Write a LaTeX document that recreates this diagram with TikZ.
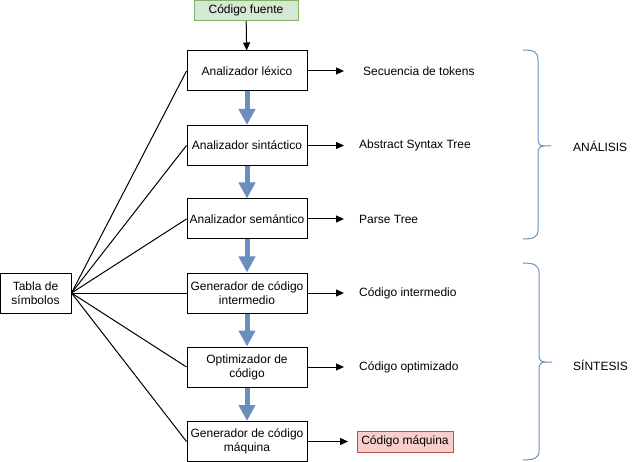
\documentclass[tikz,border=0pt]{standalone}
\usepackage{fontspec}
\setmainfont{Liberation Sans}
\usetikzlibrary{arrows.meta}
\definecolor{gfill}{HTML}{D5E8D4}
\definecolor{gline}{HTML}{82B366}
\definecolor{rfill}{HTML}{F8CECC}
\definecolor{rline}{HTML}{B85450}
\definecolor{bblue}{HTML}{6C8EBF}
\tikzset{
  stagebox/.style={draw=black, line width=1pt, minimum width=120pt, minimum height=40pt, inner sep=0pt, align=center, font=\fontsize{12}{14}\selectfont},
  tablebox/.style={draw=black, line width=1pt, minimum width=71pt, minimum height=40pt, inner sep=0pt, align=center, font=\fontsize{12}{14}\selectfont},
  lbl/.style={anchor=west, inner sep=0pt, font=\fontsize{12}{14}\selectfont},
  bigarrow/.style={draw=bblue, line width=5pt, -{Triangle[width=16pt,length=16pt]}},
  blkarrow/.style={draw=black, line width=1pt, -{Triangle[width=7pt,length=8pt]}},
  tline/.style={draw=black, line width=1pt},
  bracestyle/.style={draw=bblue, line width=1pt},
}
\begin{document}
\begin{tikzpicture}[x=1pt,y=-1pt]
\useasboundingbox (0,0) rectangle (634,462);

\node[draw=gline, fill=gfill, line width=1pt, minimum width=104pt, minimum height=20pt, inner sep=0pt, font=\fontsize{12}{14}\selectfont] (src) at (246,10.5) {Código fuente};

\node[stagebox] (lex) at (247,71) {Analizador léxico};
\node[stagebox] (sin) at (247,145.5) {Analizador sintáctico};
\node[stagebox] (sem) at (247,219) {Analizador semántico};
\node[stagebox] (gci) at (247,293) {Generador de código\\intermedio};
\node[stagebox] (opt) at (247,367) {Optimizador de\\código};
\node[stagebox] (gcm) at (247,441.5) {Generador de código\\máquina};

\node[tablebox] (tab) at (35.5,293) {Tabla de\\símbolos};

\draw[blkarrow] (src) -- (lex);
\draw[bigarrow] (lex) -- (sin);
\draw[bigarrow] (sin) -- (sem);
\draw[bigarrow] (sem) -- (gci);
\draw[bigarrow] (gci) -- (opt);
\draw[bigarrow] (opt) -- (gcm);

\foreach \n in {lex,sin,sem,gci,opt,gcm}{
  \draw[tline] (tab.east) -- (\n.west);
}

\coordinate (t1) at (344,71);
\coordinate (t2) at (344,145.5);
\coordinate (t3) at (344,219);
\coordinate (t4) at (344,293);
\coordinate (t5) at (344,367);
\coordinate (t6) at (348,441.5);
\draw[blkarrow] (lex.east) -- (t1);
\draw[blkarrow] (sin.east) -- (t2);
\draw[blkarrow] (sem.east) -- (t3);
\draw[blkarrow] (gci.east) -- (t4);
\draw[blkarrow] (opt.east) -- (t5);
\draw[blkarrow] (gcm.east) -- (t6);

\node[lbl] (l1) at (363,71) {Secuencia de tokens};
\node[lbl] (l2) at (359,145.5) {Abstract Syntax Tree};
\node[lbl] (l3) at (359,219) {Parse Tree};
\node[lbl] (l4) at (359,293) {Código intermedio};
\node[lbl] (l5) at (359,367) {Código optimizado};
\node[draw=rline, fill=rfill, line width=1pt, minimum width=96pt, minimum height=21pt, inner sep=0pt, font=\fontsize{12}{14}\selectfont] (l6) at (405,441.5) {Código máquina};

% braces
\draw[bracestyle] (523,50) .. controls (534,50) and (538,52) .. (538,60)
  -- (538,138) .. controls (538,143) and (539,146) .. (544,146) -- (551,146);
\draw[bracestyle] (544,146) .. controls (539,146) and (538,149) .. (538,154)
  -- (538,230) .. controls (538,237) and (534,239) .. (523,239);

\draw[bracestyle] (523,263) .. controls (534,263) and (539,265) .. (539,273)
  -- (539,354) .. controls (539,359) and (540,362) .. (545,362) -- (552,362);
\draw[bracestyle] (545,362) .. controls (540,362) and (539,365) .. (539,370)
  -- (539,451) .. controls (539,458) and (534,460) .. (523,460);

\node[lbl] (ana) at (573,146) {ANÁLISIS};
\node[lbl] (sint) at (573,365) {SÍNTESIS};
\end{tikzpicture}
\end{document}
